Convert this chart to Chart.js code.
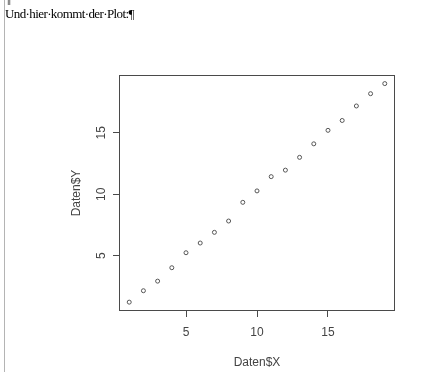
<!DOCTYPE html>
<html>
<head>
<meta charset="utf-8">
<script src="https://cdn.jsdelivr.net/npm/chart.js@4/dist/chart.umd.min.js"></script>
<style>
  html, body { margin: 0; padding: 0; background: #fff; }
  #page { position: relative; width: 432px; height: 373px; overflow: hidden; }
  #margin { position: absolute; left: 4px; top: 0; width: 1px; height: 372px; background: #b4b4b4; }
  .word { position: absolute; left: 5px; font-family: "Liberation Serif", "Times New Roman", serif; font-size: 13px; letter-spacing: -0.6px; color: #000; white-space: nowrap; }
  #para0 { top: -9px; }
  #para1 { top: 6px; }
  #wrap { position: absolute; left: 0; top: 0; width: 432px; height: 373px; }
</style>
</head>
<body>
<div id="page">
  <div id="wrap"><canvas id="plot"></canvas></div>
  <div id="margin"></div>
  <div class="word" id="para0">¶</div>
  <div class="word" id="para1">Und·hier·kommt·der·Plot:¶</div>
</div>
<script>
// Daten$X und Daten$Y
const datenX = [1, 2, 3, 4, 5, 6, 7, 8, 9, 10, 11, 12, 13, 14, 15, 16, 17, 18, 19];
const datenY = [1.22, 2.15, 2.93, 4.02, 5.24, 6.03, 6.9, 7.82, 9.34, 10.27, 11.43, 11.96, 13.0, 14.1, 15.2, 16.0, 17.18, 18.18, 19.0];
const xTicks = [5, 10, 15];
const yTicks = [5, 10, 15];

const axisColor = '#4a4a4a';
const textColor = '#444';

const boxPlugin = {
    id: 'box',
    afterDraw(chart) {
        const a = chart.chartArea;
        const c = chart.ctx;
        c.save();
        c.strokeStyle = axisColor;
        c.lineWidth = 1;
        c.strokeRect(Math.round(a.left) + 0.5, Math.round(a.top) + 0.5,
            Math.round(a.right - a.left) - 1, Math.round(a.bottom - a.top) - 1);
        c.restore();
    }
};

new Chart(document.getElementById('plot'), {
    type: 'scatter',
    data: {
        datasets: [{
            data: datenX.map((x, i) => ({ x: x, y: datenY[i] })),
            pointStyle: 'circle',
            pointRadius: 2,
            pointBorderWidth: 1,
            pointBorderColor: '#555',
            pointBackgroundColor: 'rgba(0,0,0,0)'
        }]
    },
    options: {
        responsive: true,
        maintainAspectRatio: false,
        animation: false,
        layout: { padding: { left: 0, top: 75, right: 37, bottom: 0 } },
        plugins: { legend: { display: false }, tooltip: { enabled: false } },
        scales: {
            x: {
                type: 'linear',
                min: 0.28,
                max: 19.72,
                afterBuildTicks: (s) => { s.ticks = xTicks.map(v => ({ value: v })); },
                afterFit: (s) => { s.height = 62; },
                grid: { display: true, drawOnChartArea: false, drawTicks: true, tickLength: 6, color: axisColor },
                border: { display: false },
                ticks: { color: textColor, font: { family: 'Liberation Sans, Arial', size: 12 }, padding: 8, maxRotation: 0 },
                title: { display: true, text: 'Daten$X', color: textColor, font: { family: 'Liberation Sans, Arial', size: 12 }, padding: { top: 0, bottom: 3 } }
            },
            y: {
                type: 'linear',
                min: 0.5,
                max: 19.7,
                afterBuildTicks: (s) => { s.ticks = yTicks.map(v => ({ value: v })); },
                afterFit: (s) => { s.width = 119; },
                grid: { display: true, drawOnChartArea: false, drawTicks: true, tickLength: 6, color: axisColor },
                border: { display: false },
                ticks: { color: textColor, font: { family: 'Liberation Sans, Arial', size: 12 }, padding: 5, minRotation: 90, maxRotation: 90, crossAlign: 'center' },
                title: { display: true, text: 'Daten$Y', color: textColor, font: { family: 'Liberation Sans, Arial', size: 12 }, padding: { top: 69, bottom: 0 } }
            }
        }
    },
    plugins: [boxPlugin]
});
</script>
</body>
</html>
